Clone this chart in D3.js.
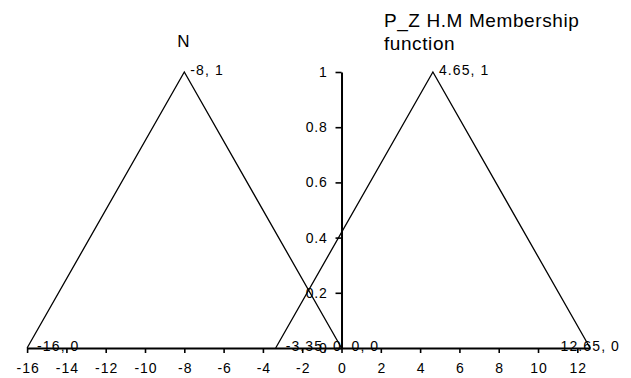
<!DOCTYPE html>
<html><head><meta charset="utf-8">
<script src="https://cdn.jsdelivr.net/npm/d3@7"></script>
<style>
body{margin:0;background:#fff}
svg{display:block}
text{font-family:"Liberation Sans",Arial,sans-serif;fill:#000}
</style>
</head><body>
<svg id="c" width="631" height="378"></svg>
<script>
// ---- data ----
const seriesN_x = [-16, -8, 0];
const seriesN_y = [0, 1, 0];
const seriesPZ_x = [-3.35, 4.65, 12.65];
const seriesPZ_y = [0, 1, 0];
const xTicks = [-16, -14, -12, -10, -8, -6, -4, -2, 0, 2, 4, 6, 8, 10, 12];
const yTicks = [0, 0.2, 0.4, 0.6, 0.8, 1];
const yTickLabels = ["0", "0.2", "0.4", "0.6", "0.8", "1"];
const nameN = "N";
const namePZ = ["P_Z H.M Membership", "function"];

// ---- layout ----
const W = 631, H = 378;
const FONT = '"Liberation Sans",Arial,sans-serif';
const svg = d3.select("#c");
const x = d3.scaleLinear().domain([-16, 12.65]).range([27.1, 590.1]);
const y = d3.scaleLinear().domain([0, 1]).range([348, 72]);

// x axis
const gx = svg.append("g").attr("transform", `translate(0,${y(0)})`)
  .call(d3.axisBottom(x).tickValues(xTicks).tickSize(5).tickSizeOuter(0).tickPadding(10)
    .tickFormat(d => String(d)));
gx.select(".domain").attr("stroke", "#000").attr("stroke-width", 2);
gx.selectAll(".tick line").attr("stroke", "#000").attr("stroke-width", 1.6);
gx.selectAll(".tick text").attr("font-size", 14).attr("font-family", FONT)
  .attr("letter-spacing", 1).attr("dx", 0.5);

// y axis
const gy = svg.append("g").attr("transform", `translate(${x(0)},0)`)
  .call(d3.axisLeft(y).tickValues(yTicks).tickSize(6).tickSizeOuter(0).tickPadding(8)
    .tickFormat((d, i) => yTickLabels[i]));
gy.select(".domain").attr("stroke", "#000").attr("stroke-width", 2);
gy.selectAll(".tick line").attr("stroke", "#000").attr("stroke-width", 1.6);
gy.selectAll(".tick text").attr("font-size", 14).attr("font-family", FONT)
  .attr("letter-spacing", 0.8);

// series
const series = [
  {xs: seriesN_x, ys: seriesN_y},
  {xs: seriesPZ_x, ys: seriesPZ_y}
];
const line = d3.line().x(d => x(d[0])).y(d => y(d[1]));
series.forEach(s => {
  const pts = s.xs.map((v, i) => [v, s.ys[i]]);
  svg.append("path").datum(pts).attr("d", line)
    .attr("fill", "none").attr("stroke", "#000").attr("stroke-width", 1.3);
});

// data labels
const rightBound = 620;
series.forEach(s => {
  s.xs.forEach((v, i) => {
    const t = svg.append("text")
      .attr("font-size", 14)
      .attr("letter-spacing", 1.1)
      .attr("y", y(s.ys[i]) - 2)
      .attr("dy", "0.35em")
      .text(`${v}, ${s.ys[i]}`);
    const w = t.node().getComputedTextLength();
    let px = x(v) + (s.ys[i] === 0 ? 10 : 6);
    if (px + w > rightBound) px = rightBound - w;
    t.attr("x", px);
  });
});

// series names
svg.append("text").attr("x", x(-8) - 1).attr("y", y(1) - 25)
  .attr("text-anchor", "middle").attr("font-size", 17).text(nameN);
namePZ.forEach((t, i) => {
  svg.append("text").attr("x", x(4.65) - 49).attr("y", y(1) - 45 + i * 23)
    .attr("font-size", 19).attr("letter-spacing", 0.6).text(t);
});
</script>
</body></html>
